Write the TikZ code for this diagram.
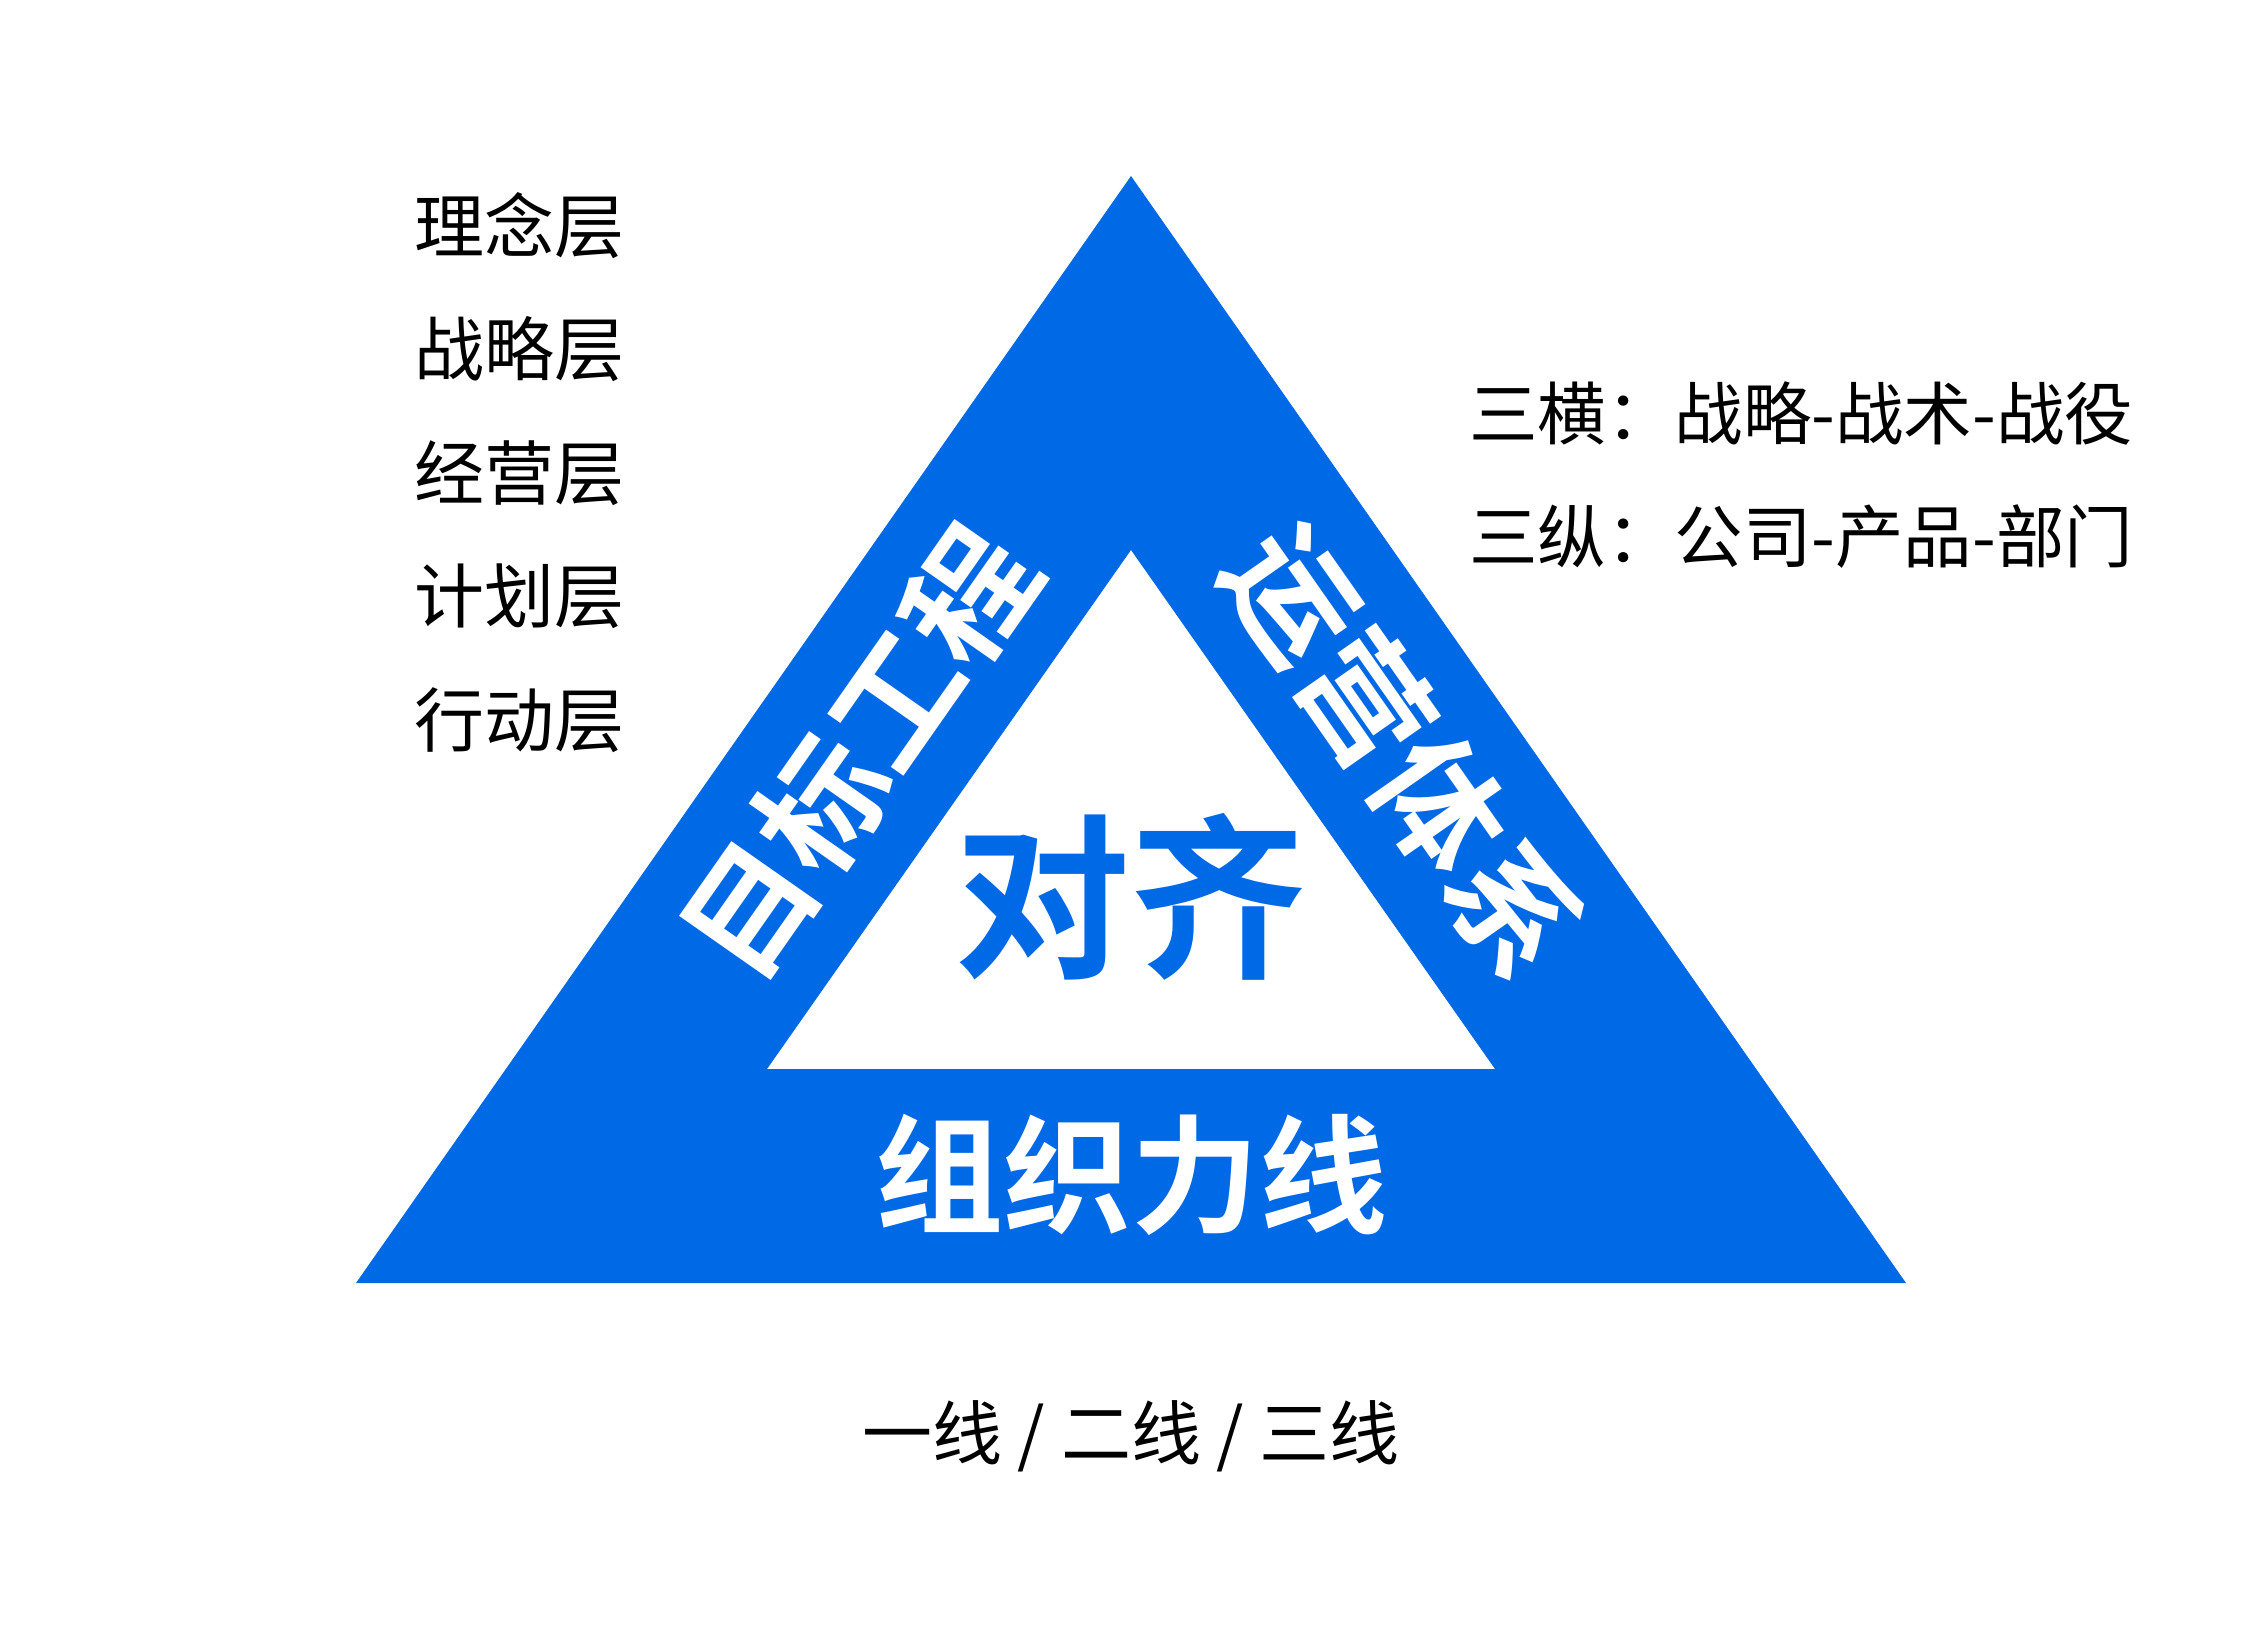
\documentclass[tikz,border=0pt]{standalone}
\usepackage{fontspec}
\newfontfamily\cjk{Noto Sans CJK SC}
\newfontfamily\cjkb{Noto Sans CJK SC Bold}
\definecolor{tblue}{RGB}{0,105,230}
\begin{document}
\begin{tikzpicture}[x=1pt,y=-1pt,
  lbl/.style={font=\cjk\fontsize{70}{84}\selectfont, inner sep=0pt, text=black},
  rlbl/.style={font=\cjk\fontsize{68.5}{82}\selectfont, inner sep=0pt, text=black},
  bandtext/.style={font=\cjkb\fontsize{128}{150}\selectfont, inner sep=0pt, text=white},
  core/.style={font=\cjkb\fontsize{176}{200}\selectfont, inner sep=0pt, text=tblue}]
\useasboundingbox (0,0) rectangle (2266,1626);
\coordinate (A) at (1131,176);
\coordinate (B) at (356,1283);
\coordinate (C) at (1906,1283);
\coordinate (a) at (1131,550);
\coordinate (b) at (767,1069);
\coordinate (c) at (1495,1069);
\fill[tblue, even odd rule] (A)--(B)--(C)--cycle (a)--(b)--(c)--cycle;
\node[core] (align) at (1130,897) {对齐};
\node[bandtext, rotate=55] (goal) at (859,752) {目标工程};
\node[bandtext, rotate=-55] (ops) at (1403,752) {运营体系};
\node[bandtext] (org) at (1131,1175) {组织力线};
\node[lbl, anchor=west] (l1) at (414,226) {理念层};
\node[lbl, anchor=west] (l2) at (414,349.5) {战略层};
\node[lbl, anchor=west] (l3) at (414,473) {经营层};
\node[lbl, anchor=west] (l4) at (414,596.5) {计划层};
\node[lbl, anchor=west] (l5) at (414,720) {行动层};
\node[rlbl, anchor=west] (r1) at (1469,413) {三横：战略-战术-战役};
\node[rlbl, anchor=west] (r2) at (1469,537) {三纵：公司-产品-部门};
\node[lbl] (bot) at (1131,1436) {一线 / 二线 / 三线};
\end{tikzpicture}
\end{document}
